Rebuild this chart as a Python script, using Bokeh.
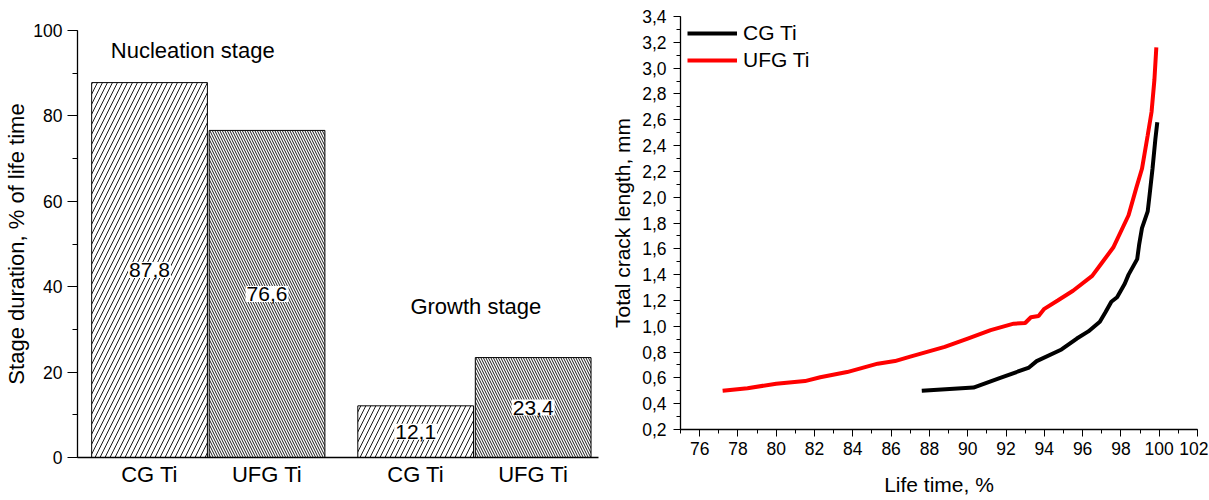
from bokeh.plotting import figure
from bokeh.models import (Range1d, SingleIntervalTicker, FixedTicker, CustomJSTickFormatter,
                          ColumnDataSource, Label)
from bokeh.layouts import row
from bokeh.embed import file_html
from bokeh.resources import INLINE
from bokeh.core.properties import value

# ---------------- data ----------------
stages = ["Nucleation stage", "Nucleation stage", "Growth stage", "Growth stage"]
materials = ["CG Ti", "UFG Ti", "CG Ti", "UFG Ti"]
durations = [87.8, 76.6, 12.1, 23.4]

cg_life = [87.6, 90.3, 91.7, 93.2, 93.6, 94.9, 95.7, 96.3, 96.9, 97.2, 97.5, 97.8, 98.2, 98.4,
           98.85, 98.95, 99.1, 99.4, 99.5, 99.65, 99.8, 99.9]
cg_len = [0.50, 0.525, 0.60, 0.68, 0.73, 0.82, 0.905, 0.96, 1.035, 1.11, 1.19, 1.225, 1.33, 1.40,
          1.52, 1.63, 1.76, 1.89, 2.02, 2.22, 2.45, 2.58]
ufg_life = [77.2, 78.5, 80.0, 81.5, 82.3, 83.7, 85.3, 86.2, 87.0, 87.6, 88.8, 90.0, 91.2, 92.4,
            93.0, 93.3, 93.7, 94.0, 94.7, 95.5, 96.5, 97.0, 97.6, 98.4, 98.8, 99.1, 99.4, 99.6,
            99.75, 99.85]
ufg_len = [0.50, 0.52, 0.555, 0.575, 0.605, 0.645, 0.71, 0.73, 0.765, 0.79, 0.84, 0.905, 0.97,
           1.02, 1.025, 1.07, 1.08, 1.135, 1.2, 1.275, 1.39, 1.49, 1.61, 1.86, 2.07, 2.22, 2.48,
           2.66, 2.91, 3.16]

FONT = "Liberation Sans"

# ---------------- left: bar chart ----------------
group_gap = 0.265
stage_order = []
for s in stages:
    if s not in stage_order:
        stage_order.append(s)
xs = [i + group_gap * stage_order.index(s) for i, s in enumerate(stages)]
hatches = ["/" if m == "CG Ti" else "\\" for m in materials]
hscales = [10 if m == "CG Ti" else 5 for m in materials]
labels = [("%.1f" % v).replace(".", ",") for v in durations]
src = ColumnDataSource(dict(x=xs, top=durations, ly=[v / 2 for v in durations],
                            lbl=labels, hatch=hatches, hs=hscales))

p1 = figure(width=600, height=498, x_range=Range1d(-0.613, 3.821), y_range=Range1d(0, 100),
            output_backend="svg", toolbar_location=None,
            min_border_left=77, min_border_right=2, min_border_top=30, min_border_bottom=41)
p1.frame_align = False
p1.outline_line_color = None
p1.grid.grid_line_color = None
p1.vbar(x="x", top="top", width=0.985, source=src, fill_color="white", line_color="black",
        line_width=1, hatch_pattern="hatch", hatch_scale="hs", hatch_weight=0.9,
        hatch_color="black")
p1.text(x="x", y="ly", text="lbl", source=src, text_align="center", text_baseline="middle",
        text_font=value(FONT), text_font_size="21px", text_color="black",
        background_fill_color="white", padding=1)

p1.yaxis.ticker = SingleIntervalTicker(interval=20, num_minor_ticks=2)
p1.xaxis.ticker = FixedTicker(ticks=xs)
p1.xaxis.formatter = CustomJSTickFormatter(args=dict(pos=xs, names=materials), code="""
for (let i = 0; i < pos.length; i++) { if (Math.abs(pos[i] - tick) < 1e-6) return names[i]; }
return '';""")
p1.xaxis.major_tick_line_color = None
p1.xaxis.minor_tick_line_color = None
p1.xaxis.major_tick_out = 0
p1.xaxis.major_label_standoff = 4
p1.yaxis.axis_label = "Stage duration, % of life time"
for ax in (p1.xaxis[0], p1.yaxis[0]):
    ax.axis_line_color = "black"
    ax.axis_line_width = 1.3
    ax.major_label_text_font = FONT
    ax.major_label_text_color = "black"
    ax.axis_label_text_font = FONT
    ax.axis_label_text_font_style = "normal"
    ax.axis_label_text_font_size = "22px"
    ax.axis_label_text_color = "black"
p1.xaxis.major_label_text_font_size = "22px"
p1.yaxis.major_label_text_font_size = "17.5px"
p1.yaxis.major_tick_out = 10
p1.yaxis.major_tick_in = 0
p1.yaxis.minor_tick_out = 5
p1.yaxis.minor_tick_in = 0
p1.yaxis.major_label_standoff = 5
p1.yaxis.axis_label_standoff = 1

p1.add_layout(Label(x=-0.33, y=95.3, text=stage_order[0], text_font=FONT,
                    text_font_size="22px", text_baseline="middle", text_color="black"))
p1.add_layout(Label(x=2.22, y=35.4, text=stage_order[1], text_font=FONT,
                    text_font_size="22px", text_baseline="middle", text_color="black"))

# ---------------- right: line chart ----------------
p2 = figure(width=608, height=498, x_range=Range1d(75, 102), y_range=Range1d(0.2, 3.4001),
            output_backend="svg", toolbar_location=None,
            min_border_left=80, min_border_right=11, min_border_top=16, min_border_bottom=64)
p2.frame_align = False
p2.outline_line_color = None
p2.grid.grid_line_color = None
p2.line(cg_life, cg_len, line_width=4, line_color="black", legend_label="CG Ti")
p2.line(ufg_life, ufg_len, line_width=4, line_color="#ff0000", legend_label="UFG Ti")

p2.xaxis.ticker = SingleIntervalTicker(interval=2, num_minor_ticks=2)
p2.yaxis.ticker = SingleIntervalTicker(interval=0.2, num_minor_ticks=2)
p2.yaxis.formatter = CustomJSTickFormatter(code="return tick.toFixed(1).replace('.', ',');")
p2.xaxis.axis_label = "Life time, %"
p2.yaxis.axis_label = "Total crack length, mm"
for ax in (p2.xaxis[0], p2.yaxis[0]):
    ax.axis_line_color = "black"
    ax.axis_line_width = 1.3
    ax.major_tick_out = 7
    ax.major_tick_in = 0
    ax.minor_tick_out = 4
    ax.minor_tick_in = 0
    ax.major_label_text_font = FONT
    ax.major_label_text_font_size = "17.5px"
    ax.major_label_text_color = "black"
    ax.major_label_standoff = 5
    ax.axis_label_text_font = FONT
    ax.axis_label_text_font_style = "normal"
    ax.axis_label_text_font_size = "21px"
    ax.axis_label_text_color = "black"
    ax.axis_label_standoff = 5
p2.yaxis.major_label_standoff = 7
p2.xaxis.axis_label_standoff = 15

lg = p2.legend[0]
lg.location = (7, 357)
lg.border_line_color = None
lg.background_fill_alpha = 0
lg.margin = 0
lg.padding = 6
lg.spacing = 3
lg.glyph_width = 50
lg.glyph_height = 22
lg.label_standoff = 6
lg.label_text_font = FONT
lg.label_text_font_size = "21px"
lg.label_text_color = "black"

layout = row(p1, p2)
open("out.html", "w").write(file_html(layout, INLINE))
